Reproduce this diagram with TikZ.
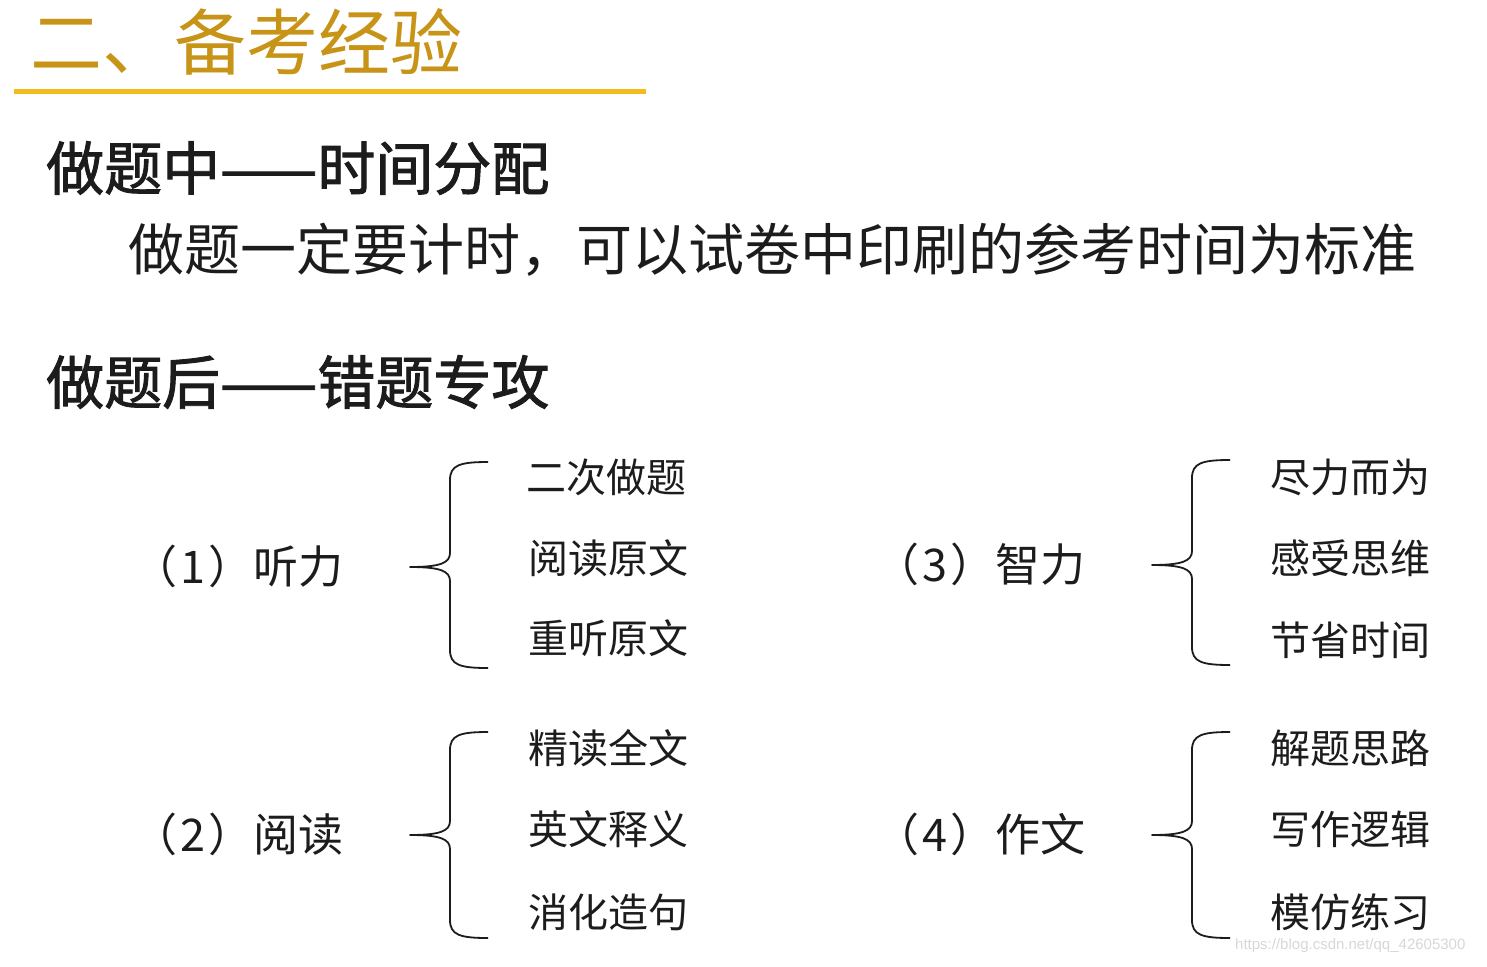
\documentclass[tikz,border=0pt]{standalone}
\usepackage{fontspec}
\usepackage{xcolor}
\usepackage{tikz}
\usetikzlibrary{positioning, calc}
\setmainfont{Noto Sans CJK SC}
\newfontfamily\headfont[FakeBold=1.6]{Noto Sans CJK SC}
\newfontfamily\markfont{Liberation Sans}
\definecolor{titlegold}{RGB}{200, 148, 24}
\definecolor{rulegold}{RGB}{245, 186, 30}
\definecolor{inkgray}{RGB}{28, 28, 28}
\definecolor{markgray}{RGB}{215, 215, 215}

\tikzset{
    heading/.style={anchor=west, inner sep=0pt, text=inkgray, font=\fontsize{58}{60}\headfont},
    bodyline/.style={anchor=west, inner sep=0pt, text=inkgray, font=\fontsize{56}{60}\selectfont},
    grouplabel/.style={anchor=west, inner sep=0pt, text=inkgray, font=\fontsize{45}{50}\selectfont},
    subitem/.style={anchor=west, inner sep=0pt, text=inkgray, font=\fontsize{40}{44}\selectfont},
    bracket/.style={draw=inkgray, line width=1.8pt, line join=round}
}

% brace: #1 = x of its tip, #2 = top, #3 = tip height, #4 = bottom
\newcommand{\groupbrace}[4]{
    \draw[bracket] ($(#1+78,#2)$) .. controls ($(#1+50,#2)$) and ($(#1+40,#2+3)$) .. ($(#1+40,#2+18)$)
        -- ($(#1+40,#3-14)$) .. controls ($(#1+40,#3-4)$) and ($(#1+30,#3)$) .. (#1,#3)
        .. controls ($(#1+30,#3)$) and ($(#1+40,#3+4)$) .. ($(#1+40,#3+14)$)
        -- ($(#1+40,#4-18)$) .. controls ($(#1+40,#4-3)$) and ($(#1+50,#4)$) .. ($(#1+78,#4)$);
}

\begin{document}
\begin{tikzpicture}[x=1pt, y=-1pt]
    \useasboundingbox (0,0) rectangle (1487,966);

    % title
    \node[anchor=west, inner sep=0pt, text=titlegold, font=\fontsize{72}{76}\selectfont] (title) at (30,42) {二、备考经验};
    \draw[rulegold, line width=5pt] (14,91) -- (646,91);

    \node[heading] (during) at (46,168) {做题中——时间分配};
    \node[bodyline] (timing) at (128,250) {做题一定要计时，可以试卷中印刷的参考时间为标准};
    \node[heading] (after) at (46,382) {做题后——错题专攻};

    % group labels
    \node[grouplabel] (listen) at (132,566) {（\kern3pt1\kern3pt）听力};
    \node[grouplabel] (read) at (132,834) {（\kern3pt2\kern3pt）阅读};
    \node[grouplabel] (wit) at (874,564) {（\kern3pt3\kern3pt）智力};
    \node[grouplabel] (essay) at (874,834) {（\kern3pt4\kern3pt）作文};

    \groupbrace{410}{462}{567}{668}
    \groupbrace{410}{732}{835}{938}
    \groupbrace{1152}{460}{565}{665}
    \groupbrace{1152}{732}{835}{938}

    \node[subitem] (l1) at (526,477) {二次做题};
    \node[subitem] (l2) at (528,558) {阅读原文};
    \node[subitem] (l3) at (528,638) {重听原文};

    \node[subitem] (r1) at (528,748) {精读全文};
    \node[subitem] (r2) at (528,829) {英文释义};
    \node[subitem] (r3) at (528,912) {消化造句};

    \node[subitem] (w1) at (1270,477) {尽力而为};
    \node[subitem] (w2) at (1270,558) {感受思维};
    \node[subitem] (w3) at (1270,640) {节省时间};

    \node[subitem] (e1) at (1270,748) {解题思路};
    \node[subitem] (e2) at (1270,829) {写作逻辑};
    \node[subitem] (e3) at (1270,912) {模仿练习};

    \node[anchor=west, inner sep=0pt, text=markgray, font=\fontsize{15}{17}\markfont] (mark) at (1235,946) {https://blog.csdn.net/qq\_42605300};
\end{tikzpicture}
\end{document}
